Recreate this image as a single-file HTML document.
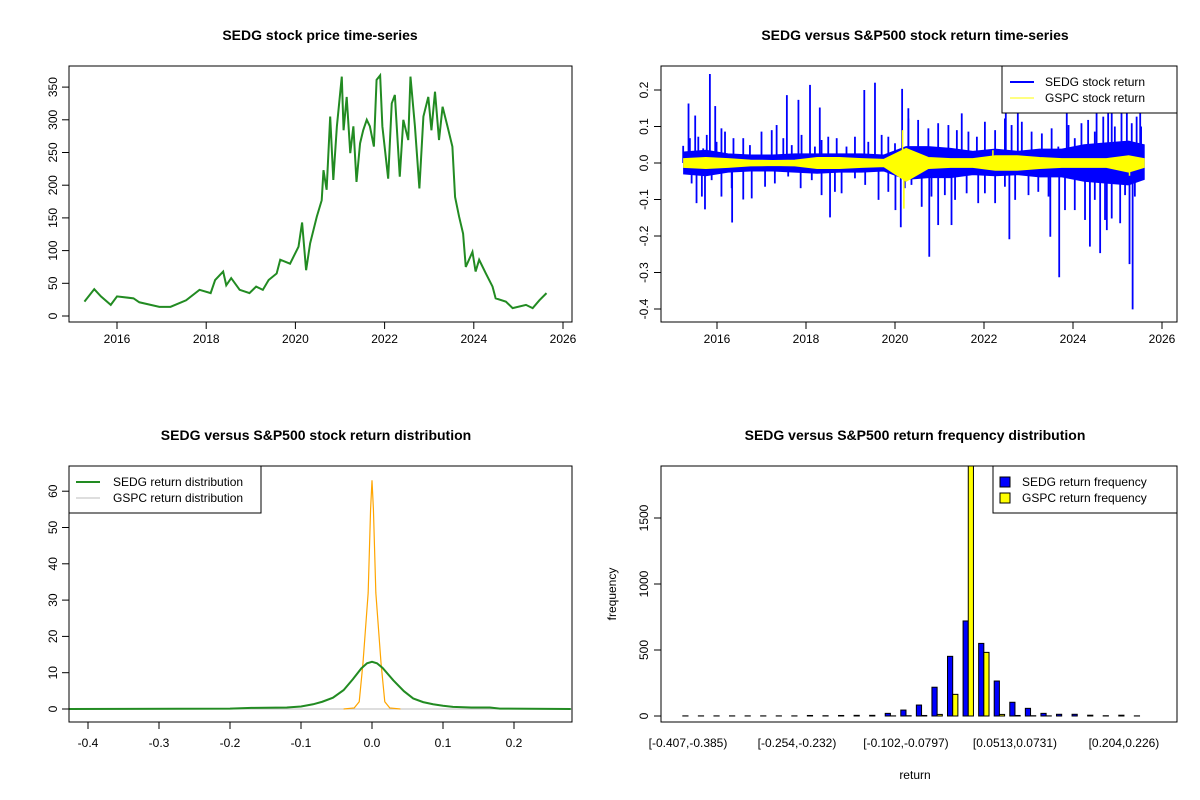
<!DOCTYPE html>
<html><head><meta charset="utf-8"><style>
body{margin:0;background:#fff;}
svg{display:block;font-family:"Liberation Sans",Arial,sans-serif;}
</style></head><body>
<svg id="c" width="1200" height="800" viewBox="0 0 1200 800"></svg>
<script>
// ---------- Panel 1 data: SEDG price ----------
const priceDates=[2015.27,2015.49,2015.64,2015.86,2016.0,2016.37,2016.5,2016.95,2017.2,2017.55,2017.85,2018.1,2018.2,2018.38,2018.45,2018.56,2018.75,2018.97,2019.12,2019.27,2019.4,2019.58,2019.66,2019.88,2020.07,2020.15,2020.24,2020.33,2020.48,2020.59,2020.63,2020.7,2020.78,2020.85,2020.93,2021.04,2021.08,2021.15,2021.23,2021.3,2021.37,2021.45,2021.52,2021.6,2021.67,2021.76,2021.82,2021.9,2021.95,2022.08,2022.16,2022.23,2022.34,2022.42,2022.53,2022.58,2022.68,2022.78,2022.87,2022.98,2023.05,2023.13,2023.22,2023.3,2023.41,2023.52,2023.58,2023.67,2023.76,2023.82,2023.97,2024.04,2024.12,2024.27,2024.42,2024.49,2024.72,2024.87,2025.17,2025.32,2025.47,2025.63];
const priceValues=[22,41,30,17,30,27,21,14,14,24,40,35,55,68,47,58,40,35,45,40,55,65,86,80,106,143,70,111,152,177,223,193,305,208,290,366,284,335,249,290,205,264,284,300,290,259,361,368,290,210,325,338,213,300,269,366,290,195,305,335,284,343,269,320,290,259,182,152,126,75,98,68,86,65,45,27,22,12,17,12,24,35];
const priceTicks=[0,50,100,150,200,250,300,350];
const yearTicks=[2016,2018,2020,2022,2024,2026];
// ---------- Panel 2 data: returns ----------
const bandDates=[2015.25,2015.75,2016.25,2016.75,2017.25,2017.75,2018.25,2018.75,2019.25,2019.75,2020.25,2020.75,2021.25,2021.75,2022.25,2022.75,2023.25,2023.75,2024.25,2024.75,2025.25,2025.6];
const sedgUpper=[0.03,0.035,0.025,0.022,0.022,0.025,0.025,0.025,0.025,0.022,0.045,0.045,0.04,0.032,0.038,0.032,0.038,0.038,0.05,0.055,0.06,0.05];
const sedgLower=[-0.03,-0.035,-0.025,-0.022,-0.022,-0.025,-0.028,-0.025,-0.025,-0.022,-0.045,-0.04,-0.04,-0.032,-0.035,-0.032,-0.038,-0.038,-0.05,-0.055,-0.06,-0.045];
const gspcUpper=[0.012,0.015,0.012,0.008,0.007,0.008,0.015,0.015,0.012,0.01,0.04,0.015,0.012,0.012,0.02,0.02,0.015,0.012,0.012,0.012,0.02,0.012];
const gspcLower=[-0.012,-0.015,-0.012,-0.008,-0.007,-0.008,-0.015,-0.015,-0.012,-0.01,-0.05,-0.015,-0.012,-0.012,-0.02,-0.02,-0.015,-0.012,-0.012,-0.012,-0.025,-0.012];
const spikeDates=[2015.36,2015.51,2015.84,2015.96,2016.10,2017.57,2017.83,2018.09,2018.31,2019.31,2019.55,2020.16,2020.30,2021.50,2022.49,2022.76,2023.86,2024.53,2024.87,2025.21,2025.51,2015.73,2016.34,2018.54,2020.01,2020.13,2020.77,2020.97,2021.27,2022.57,2023.49,2023.69,2024.38,2024.61,2024.76,2025.06,2025.27,2025.34,
2015.24,2015.39,2015.58,2015.69,2015.77,2015.99,2016.18,2016.37,2016.59,2016.74,2017.00,2017.23,2017.34,2017.49,2017.68,2017.90,2018.20,2018.35,2018.50,2018.69,2018.91,2019.10,2019.40,2019.70,2019.85,2020.00,2020.30,2020.52,2020.75,2020.97,2021.20,2021.39,2021.65,2021.84,2022.02,2022.25,2022.47,2022.62,2022.85,2023.07,2023.30,2023.52,2023.67,2023.90,2024.04,2024.19,2024.34,2024.49,2024.68,2024.79,2024.94,2025.09,2025.32,2025.43,2025.53,
2015.28,2015.43,2015.54,2015.66,2015.88,2016.10,2016.33,2016.59,2016.78,2017.08,2017.30,2017.60,2017.88,2018.13,2018.35,2018.65,2018.80,2019.10,2019.33,2019.63,2019.85,2020.22,2020.37,2020.60,2020.82,2021.12,2021.35,2021.61,2021.87,2022.02,2022.25,2022.47,2022.70,2023.00,2023.22,2023.45,2023.82,2024.04,2024.27,2024.49,2024.72,2024.87,2025.17,2025.39];
const spikeValues=[0.163,0.13,0.244,0.156,0.095,0.186,0.173,0.214,0.152,0.2,0.22,0.203,0.15,0.136,0.159,0.136,0.136,0.136,0.173,0.136,0.136,-0.127,-0.163,-0.149,-0.129,-0.176,-0.257,-0.17,-0.17,-0.209,-0.202,-0.313,-0.229,-0.247,-0.184,-0.165,-0.277,-0.401,
0.047,0.068,0.072,0.040,0.077,0.058,0.086,0.068,0.068,0.049,0.086,0.090,0.104,0.068,0.049,0.077,0.045,0.063,0.072,0.068,0.045,0.072,0.058,0.077,0.072,0.054,0.122,0.118,0.095,0.109,0.104,0.090,0.086,0.072,0.113,0.090,0.122,0.104,0.113,0.086,0.081,0.095,0.045,0.104,0.068,0.109,0.118,0.086,0.127,0.136,0.100,0.136,0.109,0.127,0.100,
-0.028,-0.056,-0.110,-0.092,-0.047,-0.092,-0.069,-0.100,-0.097,-0.065,-0.056,-0.037,-0.069,-0.047,-0.088,-0.079,-0.083,-0.042,-0.060,-0.101,-0.079,-0.069,-0.060,-0.120,-0.092,-0.088,-0.101,-0.083,-0.110,-0.083,-0.110,-0.065,-0.101,-0.088,-0.079,-0.092,-0.129,-0.129,-0.156,-0.101,-0.156,-0.152,-0.088,-0.092];
const gspcSpikeDates=[2020.17,2020.2,2022.2,2025.27];
const gspcSpikeValues=[0.09,-0.125,0.035,-0.035];
const returnTicks=[-0.4,-0.3,-0.2,-0.1,0.0,0.1,0.2];
// ---------- Panel 3 data: densities ----------
const sedgDensX=[-0.427,-0.2,-0.17,-0.12,-0.1,-0.083,-0.07,-0.055,-0.04,-0.027,-0.015,-0.007,0,0.007,0.015,0.03,0.045,0.058,0.072,0.086,0.1,0.114,0.14,0.166,0.18,0.28];
const sedgDensY=[0,0.1,0.3,0.4,0.7,1.3,2.0,3.1,5.2,8.2,11.2,12.6,13.0,12.6,11.3,7.9,4.9,2.9,1.9,1.3,0.9,0.6,0.4,0.4,0.1,0];
const gspcDensX=[-0.04,-0.025,-0.018,-0.0127,-0.0054,-0.002,0,0.002,0.0054,0.0127,0.018,0.025,0.04];
const gspcDensY=[0,0.3,2,12.7,32,55,63,55,32,12.7,2,0.3,0];
const densXTicks=[-0.4,-0.3,-0.2,-0.1,0.0,0.1,0.2];
const densYTicks=[0,10,20,30,40,50,60];
// ---------- Panel 4 data: histogram ----------
const sedgFreq=[1,1,1,1,1,1,1,1,4,2,4,5,5,20,45,83,218,452,720,550,265,104,58,20,13,13,6,2,6,1];
const gspcFreq=[0,0,0,0,0,0,0,0,0,0,0,0,0,1,2,4,12,164,2050,482,12,4,2,1,0,0,0,0,0,0];
const binLabels={0:"[-0.407,-0.385)",7:"[-0.254,-0.232)",14:"[-0.102,-0.0797)",21:"[0.0513,0.0731)",28:"[0.204,0.226)"};
const freqTicks=[0,500,1000,1500];

const svg=document.getElementById('c');
const NS='http://www.w3.org/2000/svg';
function mk(tag,attrs,parent){const e=document.createElementNS(NS,tag);for(const k in attrs)e.setAttribute(k,attrs[k]);(parent||svg).appendChild(e);return e;}
function txt(s,x,y,size,anchor,parent,extra){const t=mk('text',Object.assign({x:x,y:y,'font-size':size,'text-anchor':anchor||'middle',fill:'#000'},extra||{}),parent);t.textContent=s;return t;}
function group(name){const g=mk('g',{});return g;}

// ===== Panel 1 =====
(function(){
 const g=group('price-panel');
 const X=y=>117+(y-2016)*44.6, Y=v=>316-v*0.654;
 const t=txt('SEDG stock price time-series',320,40,14,'middle',g,{'font-weight':'bold'});
 
 const b=mk('rect',{x:69,y:66,width:503,height:256,fill:'none',stroke:'#000'},g);
 
 yearTicks.forEach(v=>{mk('line',{x1:X(v),x2:X(v),y1:322,y2:329,stroke:'#000'},g);const l=txt(String(v),X(v),343,12,'middle',g);});
 mk('line',{x1:X(2016),x2:X(2026),y1:322,y2:322,stroke:'#000'},g);
 priceTicks.forEach(v=>{mk('line',{x1:62,x2:69,y1:Y(v),y2:Y(v),stroke:'#000'},g);const l=txt(String(v),0,0,12,'middle',g,{transform:`translate(57,${Y(v)}) rotate(-90)`});});
 const p=mk('polyline',{points:priceDates.map((d,i)=>X(d)+','+Y(priceValues[i])).join(' '),fill:'none',stroke:'#228B22','stroke-width':2},g);
 
})();

// ===== Panel 2 =====
(function(){
 const g=group('return-panel');
 const X=y=>717+(y-2016)*44.5, Y=v=>163-v*365;
 const t=txt('SEDG versus S&P500 stock return time-series',915,40,14,'middle',g,{'font-weight':'bold'});
 
 yearTicks.forEach(v=>{mk('line',{x1:X(v),x2:X(v),y1:322,y2:329,stroke:'#000'},g);const l=txt(String(v),X(v),343,12,'middle',g);});
 mk('line',{x1:X(2016),x2:X(2026),y1:322,y2:322,stroke:'#000'},g);
 returnTicks.forEach(v=>{mk('line',{x1:654,x2:661,y1:Y(v),y2:Y(v),stroke:'#000'},g);const l=txt(v.toFixed(1),0,0,12,'middle',g,{transform:`translate(648,${Y(v)}) rotate(-90)`});});
 const up=bandDates.map((d,i)=>X(d)+','+Y(sedgUpper[i])), lo=bandDates.map((d,i)=>X(d)+','+Y(sedgLower[i])).reverse();
 const band=mk('polygon',{points:up.concat(lo).join(' '),fill:'#0000FF',stroke:'#0000FF','stroke-width':1},g);
 
 spikeDates.forEach((d,i)=>{const s=mk('line',{x1:X(d),x2:X(d),y1:Y(0),y2:Y(spikeValues[i]),stroke:'#0000FF','stroke-width':1.8},g);});
 const gu=bandDates.map((d,i)=>X(d)+','+Y(gspcUpper[i])), gl=bandDates.map((d,i)=>X(d)+','+Y(gspcLower[i])).reverse();
 const yb=mk('polygon',{points:gu.concat(gl).join(' '),fill:'#FFFF00',stroke:'#FFFF00','stroke-width':1},g);
 
 gspcSpikeDates.forEach((d,i)=>{const s=mk('line',{x1:X(d),x2:X(d),y1:Y(0),y2:Y(gspcSpikeValues[i]),stroke:'#FFFF00','stroke-width':1.5},g);});
 const b=mk('rect',{x:661,y:66,width:516,height:256,fill:'none',stroke:'#000'},g);
 
 const lg=group('return-legend');g.appendChild(lg);
 mk('rect',{x:1002,y:66,width:175,height:47,fill:'#fff',stroke:'#000'},lg);
 mk('line',{x1:1010,x2:1034,y1:82,y2:82,stroke:'#0000FF','stroke-width':2},lg);
 mk('line',{x1:1010,x2:1034,y1:98,y2:98,stroke:'#FFFF00','stroke-width':1},lg);
 const a=txt('SEDG stock return',1045,86,12,'start',lg);
 const c=txt('GSPC stock return',1045,102,12,'start',lg);
})();

// ===== Panel 3 =====
(function(){
 const g=group('density-panel');
 const X=v=>88+(v+0.4)*710, Y=v=>709-v*3.63;
 const t=txt('SEDG versus S&P500 stock return distribution',316,440,14,'middle',g,{'font-weight':'bold'});
 
 densXTicks.forEach(v=>{mk('line',{x1:X(v),x2:X(v),y1:722,y2:729,stroke:'#000'},g);const l=txt(v.toFixed(1),X(v),747,12,'middle',g);});
 mk('line',{x1:X(-0.4),x2:X(0.2),y1:722,y2:722,stroke:'#000'},g);
 densYTicks.forEach(v=>{mk('line',{x1:62,x2:69,y1:Y(v),y2:Y(v),stroke:'#000'},g);const l=txt(String(v),0,0,12,'middle',g,{transform:`translate(57,${Y(v)}) rotate(-90)`});});
 mk('line',{x1:69,x2:572,y1:Y(0),y2:Y(0),stroke:'#bebebe'},g);
 const o=mk('polyline',{points:gspcDensX.map((x,i)=>X(x)+','+Y(gspcDensY[i])).join(' '),fill:'none',stroke:'#FFA500','stroke-width':1.2},g);
 
 const p=mk('polyline',{points:sedgDensX.map((x,i)=>X(x)+','+Y(sedgDensY[i])).join(' '),fill:'none',stroke:'#228B22','stroke-width':2},g);
 
 const b=mk('rect',{x:69,y:466,width:503,height:256,fill:'none',stroke:'#000'},g);
 
 const lg=group('density-legend');g.appendChild(lg);
 mk('rect',{x:69,y:466,width:192,height:47,fill:'#fff',stroke:'#000'},lg);
 mk('line',{x1:76,x2:100,y1:482,y2:482,stroke:'#228B22','stroke-width':2},lg);
 mk('line',{x1:76,x2:100,y1:498,y2:498,stroke:'#bebebe','stroke-width':1},lg);
 const a=txt('SEDG return distribution',113,486,12,'start',lg);
 const c=txt('GSPC return distribution',113,502,12,'start',lg);
})();

// ===== Panel 4 =====
(function(){
 const g=group('histogram-panel');
 const w=15.57/3, C=k=>688+k*15.57, Y=v=>716-v*0.132;
 const t=txt('SEDG versus S&P500 return frequency distribution',915,440,14,'middle',g,{'font-weight':'bold'});
 
 const clip=mk('clipPath',{id:'hc'},g);mk('rect',{x:661,y:466,width:516,height:256},clip);
 const bars=mk('g',{'clip-path':'url(#hc)'},g);
 sedgFreq.forEach((v,k)=>{const r=mk('rect',{x:C(k)-w,y:Y(v),width:w,height:v*0.132,fill:'#0000FF',stroke:'#000','stroke-width':1},bars);});
 gspcFreq.forEach((v,k)=>{const r=mk('rect',{x:C(k),y:Y(v),width:w,height:v*0.132,fill:'#FFFF00',stroke:'#000','stroke-width':1},bars);});
 Object.keys(binLabels).forEach(k=>{const l=txt(binLabels[k],C(+k),747,12,'middle',g);});
 freqTicks.forEach(v=>{mk('line',{x1:654,x2:661,y1:Y(v),y2:Y(v),stroke:'#000'},g);const l=txt(String(v),0,0,12,'middle',g,{transform:`translate(648,${Y(v)}) rotate(-90)`});});
 mk('line',{x1:661,x2:661,y1:Y(0),y2:Y(1500),stroke:'#000'},g);
 const xl=txt('return',915,779,12,'middle',g);
 const yl=txt('frequency',0,0,12,'middle',g,{transform:'translate(616,594) rotate(-90)'});
 const b=mk('rect',{x:661,y:466,width:516,height:256,fill:'none',stroke:'#000'},g);
 
 const lg=group('histogram-legend');g.appendChild(lg);
 mk('rect',{x:993,y:466,width:184,height:47,fill:'#fff',stroke:'#000'},lg);
 mk('rect',{x:1000,y:477,width:10,height:10,fill:'#0000FF',stroke:'#000'},lg);
 mk('rect',{x:1000,y:493,width:10,height:10,fill:'#FFFF00',stroke:'#000'},lg);
 const a=txt('SEDG return frequency',1022,486,12,'start',lg);
 const c=txt('GSPC return frequency',1022,502,12,'start',lg);
})();
</script>
</body></html>
